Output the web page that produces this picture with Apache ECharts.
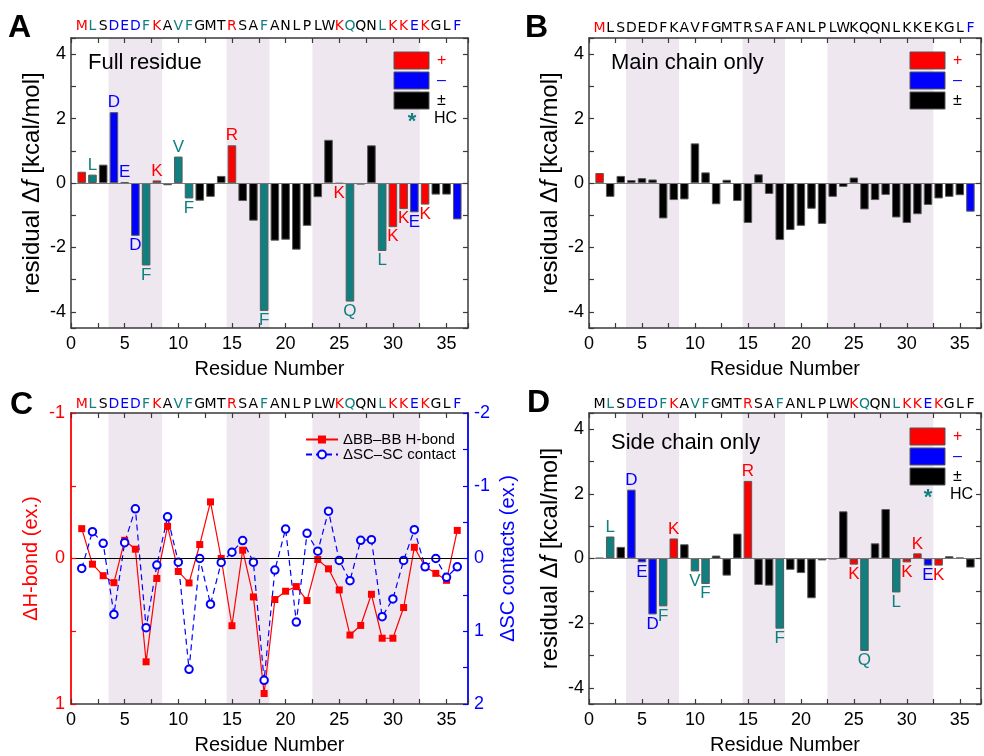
<!DOCTYPE html>
<html><head><meta charset="utf-8">
<script src="https://cdn.jsdelivr.net/npm/echarts@6/dist/echarts.min.js"></script>
<style>html,body{margin:0;padding:0;background:#fff}#c{width:984px;height:756px}</style>
</head><body><div id="c"></div>
<script>
// ---------------- DATA ----------------
const sequence = ['M','L','S','D','E','D','F','K','A','V','F','G','M','T','R','S','A','F','A','N','L','P','L','W','K','Q','Q','N','L','K','K','E','K','G','L','F'];
const residueNumbers = sequence.map((s, i) => i + 1);
// residue classes: p = positive (+), n = negative (–), h = hydrophobic contact (HC), o = other (±)
const sideChainClass = ['o','h','o','n','n','n','h','p','o','h','h','o','o','o','p','o','o','h','o','o','o','o','o','o','p','h','o','o','h','p','p','n','p','o','o','o'];
const mainChainClass = ['p','o','o','o','o','o','o','o','o','o','o','o','o','o','o','o','o','o','o','o','o','o','o','o','o','o','o','o','o','o','o','o','o','o','o','n'];
const fullResidue = [0.35, 0.26, 0.57, 2.2, 0.03, -1.64, -2.56, 0.08, -0.07, 0.82, -0.48, -0.55, -0.43, 0.22, 1.17, -0.56, -1.17, -3.97, -1.79, -1.76, -2.07, -1.33, -0.44, 1.34, -0.02, -3.68, -0.05, 1.17, -2.11, -1.37, -0.81, -0.91, -0.67, -0.36, -0.36, -1.13];
const mainChainOnly = [0.31, -0.43, 0.22, 0.09, 0.15, 0.11, -1.10, -0.53, -0.51, 1.23, 0.33, -0.66, 0.10, -0.56, -1.24, 0.27, -0.34, -1.77, -1.46, -1.33, -0.80, -1.27, -0.43, -0.12, 0.17, -0.82, -0.53, -0.37, -1.07, -1.24, -0.97, -0.68, -0.48, -0.43, -0.38, -0.89];
const sideChainOnly = [0.02, 0.68, 0.36, 2.13, -0.12, -1.73, -1.48, 0.62, 0.44, -0.40, -0.79, 0.09, -0.53, 0.77, 2.40, -0.82, -0.84, -2.17, -0.35, -0.45, -1.23, -0.06, -0.02, 1.46, -0.19, -2.86, 0.47, 1.53, -1.05, -0.12, 0.16, -0.22, -0.22, 0.07, 0.03, -0.28];
const hbondChange = [-0.205, 0.039, 0.118, 0.166, -0.125, -0.064, 0.71, 0.137, -0.221, 0.089, 0.168, -0.096, -0.389, 0.0, 0.462, -0.057, 0.264, 0.928, 0.282, 0.225, 0.193, 0.289, 0.007, 0.071, 0.216, 0.526, 0.46, 0.246, 0.548, 0.548, 0.337, -0.077, 0.057, 0.102, 0.150, -0.193];
const scContactChange = [0.137, -0.369, -0.209, 0.769, -0.218, -0.683, 0.951, 0.091, -0.573, 0.05, 1.524, 0.0, 0.628, 0.055, -0.086, -0.246, 0.05, 1.675, 0.159, -0.405, 0.874, -0.346, -0.1, -0.651, 0.027, 0.305, -0.25, -0.259, 0.80, 0.555, 0.027, -0.396, 0.114, 0.0, 0.259, 0.114];
const xTickLabels = [0, 5, 10, 15, 20, 25, 30, 35];
const barTickLabels = [-4, -2, 0, 2, 4];
const hbondTickLabels = [-1, 0, 1];
const scTickLabels = [-2, -1, 0, 1, 2];
const shadedRanges = [[3.5, 8.5], [14.5, 18.5], [22.5, 32.5]];
const panelLetters = ['A', 'B', 'C', 'D'];
const panelTitles = ['Full residue', 'Main chain only', '', 'Side chain only'];
const legendLabels = ['+', '–', '±'];
const lineNames = ['ΔBB–BB H-bond', 'ΔSC–SC contact'];

// ---------------- STYLE ----------------
const FONT = '"Liberation Sans", Arial, sans-serif';
const SEQFONT = 'DejaVu Sans';
const SEQSIZE = 14;
const RED = '#ff0000', BLUE = '#0000ff', TEAL = '#0f7f7f', BLACK = '#000000';
const FRAME = '#3a3a3a';
const classColor = {p: RED, n: BLUE, h: TEAL, o: BLACK};
const fullClass = sideChainClass.map((c, i) => c !== 'o' ? c : mainChainClass[i]);
const near = (v, arr) => arr.some(a => Math.abs(a - v) < 1e-9);

const grids = [
  {left: 71, top: 38, width: 397, height: 290},
  {left: 589, top: 38, width: 397, height: 290},
  {left: 71, top: 413, width: 397, height: 293},
  {left: 589, top: 413, width: 397, height: 292}
];

const richSeq = {
  p: {color: RED, fontFamily: SEQFONT, fontSize: SEQSIZE},
  n: {color: BLUE, fontFamily: SEQFONT, fontSize: SEQSIZE},
  h: {color: TEAL, fontFamily: SEQFONT, fontSize: SEQSIZE},
  o: {color: BLACK, fontFamily: SEQFONT, fontSize: SEQSIZE}
};

const xAxes = [], yAxes = [];
const seqClasses = [fullClass, mainChainClass, fullClass, sideChainClass];
const seqMargins = [5, 3, 2, 2];
grids.forEach((g, gi) => {
  const frameColor = FRAME;
  xAxes.push({
    gridIndex: gi, type: 'value', min: 0, max: 37, interval: 2.5, position: 'bottom', z: 10,
    axisLine: {show: true, onZero: false, lineStyle: {color: frameColor, width: 1.5}},
    axisTick: {show: true, inside: true, length: 5, lineStyle: {color: frameColor, width: 1.2}},
    splitLine: {show: false},
    axisLabel: {fontSize: 18, fontFamily: FONT, color: '#000', margin: 7,
      formatter: v => near(v, xTickLabels) ? String(v) : ''},
    name: 'Residue Number', nameLocation: 'middle', nameGap: 31,
    nameTextStyle: {fontSize: 20, fontFamily: FONT, color: '#000'}
  });
  xAxes.push({
    gridIndex: gi, type: 'value', min: 0, max: 37, interval: 2.5, position: 'top', z: 10,
    axisLine: {show: true, onZero: false, lineStyle: {color: frameColor, width: 1.5}},
    axisTick: {show: true, inside: true, length: 5, lineStyle: {color: frameColor, width: 1.2}},
    splitLine: {show: false}, axisLabel: {show: false}
  });
  const cls = seqClasses[gi];
  xAxes.push({
    gridIndex: gi, type: 'value', min: 0, max: 37, interval: 1, position: 'top', z: 10,
    axisLine: {show: false}, axisTick: {show: false}, splitLine: {show: false},
    axisLabel: {margin: seqMargins[gi], fontFamily: SEQFONT, fontSize: SEQSIZE, rich: richSeq,
      formatter: v => {
        const i = Math.round(v) - 1;
        if (i < 0 || i >= sequence.length || Math.abs(v - Math.round(v)) > 1e-6) return '';
        return '{' + cls[i] + '|' + sequence[i] + '}';
      }}
  });
  if (gi !== 2) {
    const common = {
      gridIndex: gi, type: 'value', min: -4.5, max: 4.5, minInterval: 1, maxInterval: 1, splitNumber: 9, z: 10,
      axisLine: {show: true, onZero: false, lineStyle: {color: frameColor, width: 1.5}},
      axisTick: {show: true, inside: true, length: 5, lineStyle: {color: frameColor, width: 1.2}},
      splitLine: {show: false}
    };
    yAxes.push(Object.assign({}, common, {
      position: 'left',
      axisLabel: {fontSize: 18, fontFamily: FONT, color: '#000', margin: 5,
        formatter: v => near(v, barTickLabels) ? String(v) : ''},
      name: 'residual Δ{i|f} [kcal/mol]', nameLocation: 'middle', nameGap: 27, nameRotate: 90,
      nameTextStyle: {fontSize: 24, fontFamily: FONT, color: '#000',
        rich: {i: {fontStyle: 'italic', fontSize: 24, fontFamily: FONT, color: '#000'}}}
    }));
    yAxes.push(Object.assign({}, common, {position: 'right', axisLabel: {show: false}}));
  } else {
    yAxes.push({
      gridIndex: gi, type: 'value', min: -1, max: 1, interval: 0.5, inverse: true, position: 'left', z: 10,
      axisLine: {show: true, onZero: false, lineStyle: {color: RED, width: 1.8}},
      axisTick: {show: true, inside: true, length: 5, lineStyle: {color: RED, width: 1.2}},
      splitLine: {show: false},
      axisLabel: {fontSize: 18, fontFamily: FONT, color: RED, margin: 6,
        formatter: v => near(v, hbondTickLabels) ? String(v) : ''},
      name: 'ΔH-bond (ex.)', nameLocation: 'middle', nameGap: 30, nameRotate: 90,
      nameTextStyle: {fontSize: 20, fontFamily: FONT, color: RED}
    });
    yAxes.push({
      gridIndex: gi, type: 'value', min: -2, max: 2, interval: 0.5, inverse: true, position: 'right', z: 10,
      axisLine: {show: true, onZero: false, lineStyle: {color: BLUE, width: 1.8}},
      axisTick: {show: true, inside: true, length: 5, lineStyle: {color: BLUE, width: 1.2}},
      splitLine: {show: false},
      axisLabel: {fontSize: 18, fontFamily: FONT, color: BLUE, margin: 6,
        formatter: v => near(v, scTickLabels) ? String(v) : ''},
      name: 'ΔSC contacts (ex.)', nameLocation: 'middle', nameGap: 30, nameRotate: 90,
      nameTextStyle: {fontSize: 20, fontFamily: FONT, color: BLUE}
    });
  }
});

const shadeArea = {
  silent: true,
  itemStyle: {color: '#efe7f0'},
  data: shadedRanges.map(r => [{xAxis: r[0]}, {xAxis: r[1]}])
};
const zeroLine = (color) => ({
  silent: true, symbol: ['none', 'none'], label: {show: false},
  lineStyle: {color: color, width: 1, type: 'solid'},
  data: [{yAxis: 0}]
});

function barSeries(gi, values, classes, withLabels) {
  return {
    type: 'bar', name: panelTitles[gi], xAxisIndex: gi * 3, yAxisIndex: gi * 2, barWidth: '80%',
    data: values.map((v, i) => {
      const c = classes[i];
      const item = {value: [residueNumbers[i], v], itemStyle: {color: classColor[c], borderColor: '#5a5a5a', borderWidth: 1}};
      if (withLabels && sideChainClass[i] !== 'o') {
        item.label = {show: true, position: v >= 0 ? 'top' : 'bottom', distance: 1,
          formatter: sequence[i], color: classColor[sideChainClass[i]], fontSize: 17, fontFamily: FONT};
      }
      return item;
    }),
    markArea: shadeArea,
    markLine: zeroLine('#777')
  };
}

const series = [
  barSeries(0, fullResidue, fullClass, true),
  barSeries(1, mainChainOnly, mainChainClass, false),
  barSeries(3, sideChainOnly, sideChainClass, true),
  {
    type: 'line', name: lineNames[0], xAxisIndex: 6, yAxisIndex: 4,
    data: hbondChange.map((v, i) => [residueNumbers[i], v]),
    symbol: 'rect', symbolSize: 7, itemStyle: {color: RED}, lineStyle: {color: RED, width: 1.2},
    markArea: shadeArea, markLine: zeroLine('#000')
  },
  {
    type: 'line', name: lineNames[1], xAxisIndex: 6, yAxisIndex: 5,
    data: scContactChange.map((v, i) => [residueNumbers[i], v]),
    symbol: 'emptyCircle', symbolSize: 7.5, itemStyle: {color: BLUE, borderWidth: 1.5},
    lineStyle: {color: BLUE, width: 1.2, type: [6, 4]}
  }
];

// ---------------- GRAPHICS (panel letters, titles, custom legends) ----------------
const graphic = [];
const letterPos = [[8, 28.5], [525, 28.5], [10, 405], [527, 403]];
panelLetters.forEach((L, i) => graphic.push({type: 'text', z: 100, x: letterPos[i][0], y: letterPos[i][1],
  style: {text: L, font: 'bold 32px ' + FONT, fill: '#000', align: 'left', verticalAlign: 'middle'}}));
const titlePos = [[88, 63], [611, 63], null, [611, 443]];
panelTitles.forEach((t, i) => { if (t) graphic.push({type: 'text', z: 100, x: titlePos[i][0], y: titlePos[i][1],
  style: {text: t, font: '22px ' + FONT, fill: '#000', align: 'left', verticalAlign: 'middle'}}); });

function barLegend(x0, y0, withHC) {
  const cols = [RED, BLUE, BLACK];
  cols.forEach((c, k) => {
    graphic.push({type: 'rect', z: 100, shape: {x: x0, y: y0 + k * 20, width: 35, height: 17},
      style: {fill: c, stroke: '#555', lineWidth: 1}});
    graphic.push({type: 'text', z: 100, x: x0 + 43, y: y0 + k * 20 + 9,
      style: {text: legendLabels[k], font: '16px ' + FONT, fill: c, align: 'left', verticalAlign: 'middle'}});
  });
  if (withHC) {
    graphic.push({type: 'text', z: 100, x: x0 + 18, y: y0 + 70,
      style: {text: '*', font: 'bold 22px ' + FONT, fill: TEAL, align: 'center', verticalAlign: 'middle'}});
    graphic.push({type: 'text', z: 100, x: x0 + 40, y: y0 + 67,
      style: {text: 'HC', font: '16px ' + FONT, fill: '#000', align: 'left', verticalAlign: 'middle'}});
  }
}
barLegend(394, 52, true);
barLegend(910, 52, false);
barLegend(910, 428, true);

const chart = echarts.init(document.getElementById('c'), null, {renderer: 'canvas'});
chart.setOption({
  animation: false,
  backgroundColor: '#fff',
  grid: grids,
  xAxis: xAxes,
  yAxis: yAxes,
  legend: {
    left: 305, top: 432, orient: 'vertical', padding: 0, itemWidth: 32, itemHeight: 10, itemGap: 0,
    textStyle: {fontSize: 15, fontFamily: FONT, color: '#000'},
    data: lineNames
  },
  series: series,
  graphic: graphic
});
</script></body></html>
